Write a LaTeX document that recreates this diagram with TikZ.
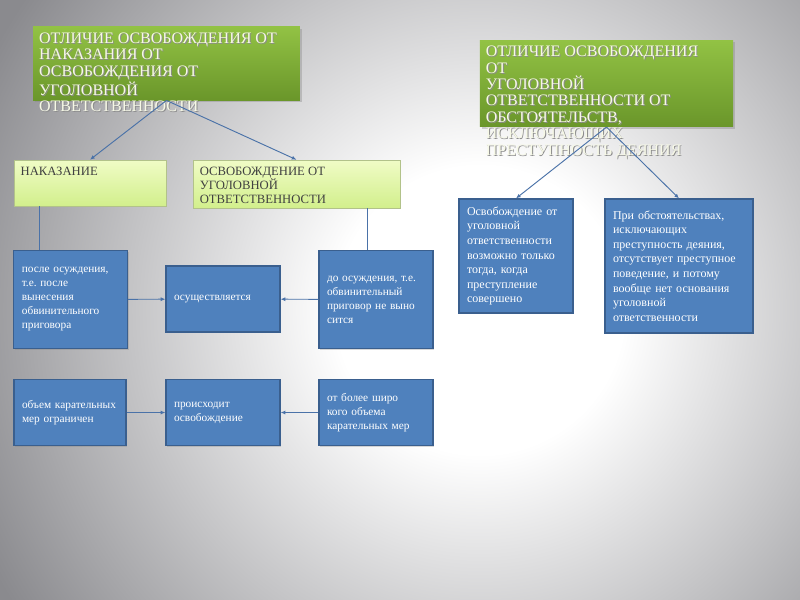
\documentclass[tikz,border=0pt]{standalone}
\usepackage{fontspec}
\setmainfont{Liberation Serif}
\usetikzlibrary{arrows.meta,positioning,shadows}

\definecolor{bgedge}{HTML}{8A8A8E}
\definecolor{titletop}{HTML}{92C244}
\definecolor{titlebot}{HTML}{6A962A}
\definecolor{titletext}{HTML}{F6F8E6}
\definecolor{leaftop}{HTML}{F0FCC6}
\definecolor{leafbot}{HTML}{D2EF8C}
\definecolor{leafline}{HTML}{B2C28A}
\definecolor{cellfill}{HTML}{4F81BD}
\definecolor{cellline}{HTML}{3A5F8E}
\definecolor{linkblue}{HTML}{4A72A8}

\pgfdeclareradialshading{bgglow}{\pgfpoint{0bp}{0bp}}{color(0bp)=(white); color(6bp)=(white); color(23bp)=(bgedge); color(70bp)=(bgedge)}

% white caps with a soft grey shadow
\newcommand{\shl}[1]{\makebox[0pt][l]{\color{black!45}\raisebox{-0.7pt}{\kern0.7pt#1}}#1}
\frenchspacing

\begin{document}
\begin{tikzpicture}[x=0.75pt, y=-0.75pt,
    titlebox/.style={top color=titletop, bottom color=titlebot, inner sep=4.5pt, text=titletext, font=\fontsize{12}{12.3}\selectfont, drop shadow={opacity=0.35, shadow xshift=1.5pt, shadow yshift=-1.5pt}},
    leafbox/.style={draw=leafline, top color=leaftop, bottom color=leafbot, inner sep=5pt, text=black!75, font=\fontsize{9.5}{10}\selectfont, drop shadow={opacity=0.25, shadow xshift=1pt, shadow yshift=-1pt}},
    cell/.style={draw=cellline, line width=0.9pt, fill=cellfill, text=white, align=left, inner xsep=6pt, inner ysep=0pt, font=\fontsize{8.5}{10.5}\selectfont, drop shadow={opacity=0.3, shadow xshift=1pt, shadow yshift=-1pt}},
    link/.style={draw=linkblue, line width=0.7pt},
    arr/.style={link, -{Latex[length=3.5pt,width=3pt]}}
]
\useasboundingbox (0,0) rectangle (800,600);
\fill[bgedge] (0,0) rectangle (800,600);
\begin{scope}
  \clip (0,0) rectangle (800,600);
  \shade[shading=bgglow] (480,310) circle[radius=600];
\end{scope}

% headings
\node[titlebox] (diffpun) at (166.5,63.5) {\parbox[t][46pt][t]{191pt}{%
  \shl{ОТЛИЧИЕ ОСВОБОЖДЕНИЯ ОТ}\\\shl{НАКАЗАНИЯ ОТ}\\\shl{ОСВОБОЖДЕНИЯ ОТ}\\\shl{УГОЛОВНОЙ}\\\shl{ОТВЕТСТВЕННОСТИ}}};
\node[titlebox] (diffcirc) at (606.5,83.5) {\parbox[t][56pt][t]{181pt}{%
  \shl{ОТЛИЧИЕ ОСВОБОЖДЕНИЯ}\\\shl{ОТ}\\\shl{УГОЛОВНОЙ}\\\shl{ОТВЕТСТВЕННОСТИ ОТ}\\\shl{ОБСТОЯТЕЛЬСТВ,}\\\shl{ИСКЛЮЧАЮЩИХ}\\\shl{ПРЕСТУПНОСТЬ ДЕЯНИЯ}}};

\node[leafbox] (punish) at (90,183) {\parbox[t][24.5pt][t]{104pt}{НАКАЗАНИЕ}};
\node[leafbox] (release) at (296.5,184) {\parbox[t][26pt][t]{145pt}{ОСВОБОЖДЕНИЕ ОТ\\УГОЛОВНОЙ\\ОТВЕТСТВЕННОСТИ}};

% left part
\node[cell, text width=73pt, minimum height=73pt] (afterconv) at (70.5,299.5) {после осуждения,\\т.е. после\\вынесения\\обвинительного\\приговора};
\node[cell, text width=73.5pt, minimum height=49.5pt] (happens) at (223,299) {осуществляется};
\node[cell, text width=73.5pt, minimum height=73pt] (beforeconv) at (376,299.5) {до осуждения, т.е.\\обвинительный\\приговор не выно\\сится};
\node[cell, text width=72pt, minimum height=50pt] (limited) at (70,412.5) {объем карательных\\мер ограничен};
\node[cell, text width=73.5pt, minimum height=50pt] (freed) at (223,412.5) {происходит\\освобождение};
\node[cell, text width=73.5pt, minimum height=50pt] (wider) at (376,412.5) {от более широ\\кого объема\\карательных мер};

% right part
\node[cell, font=\fontsize{9}{10.9}\selectfont, text width=73.5pt, minimum height=85.5pt] (onlycrime) at (516,256) {Освобождение от\\уголовной\\ответственности\\возможно только\\тогда, когда\\преступление\\совершено};
\node[cell, font=\fontsize{9}{10.9}\selectfont, text width=99pt, minimum height=100.5pt] (nocrime) at (679,266) {При обстоятельствах,\\исключающих\\преступность деяния,\\отсутствует преступное\\поведение, и потому\\вообще нет основания\\уголовной\\ответственности};

\draw[arr] (diffpun.south) -- (punish.north);
\draw[arr] (diffpun.south) -- (release.north);
\draw[arr] (diffcirc.south) -- (onlycrime.north);
\draw[arr] (diffcirc.south) -- (nocrime.north);

\coordinate (pundrop) at ([xshift=19.5pt]punish.south west);
\coordinate (reldrop) at ([xshift=-24.75pt]release.south east);
\draw[link] (pundrop) -- (pundrop |- afterconv.north);
\draw[link] (reldrop) -- (reldrop |- beforeconv.north);

\draw[arr] (afterconv) -- (happens);
\draw[arr] (beforeconv) -- (happens);
\draw[arr] (limited) -- (freed);
\draw[arr] (wider) -- (freed);
\end{tikzpicture}
\end{document}
